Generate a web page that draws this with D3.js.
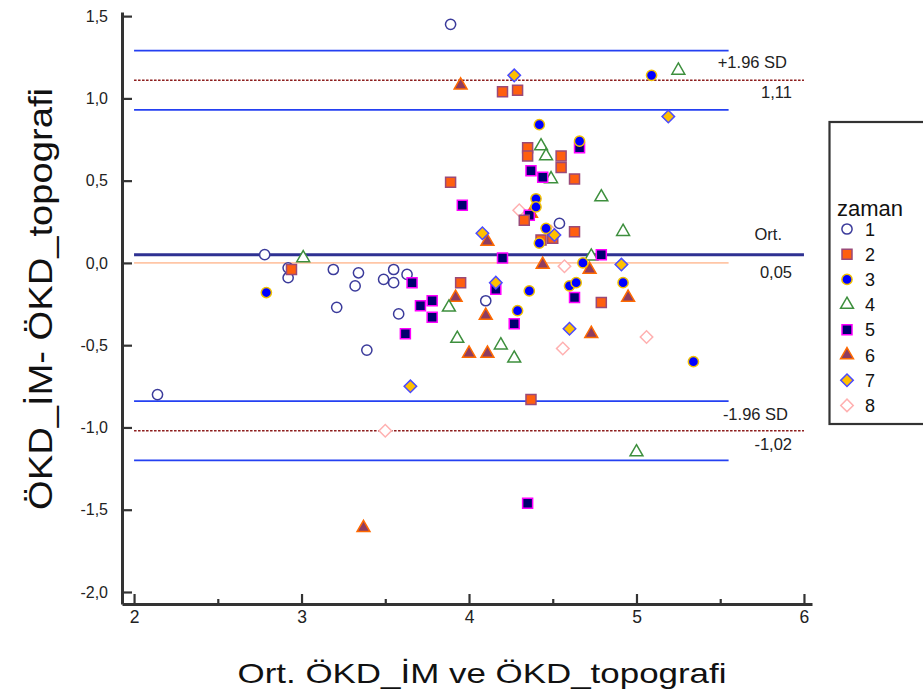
<!DOCTYPE html>
<html>
<head>
<meta charset="utf-8">
<script src="https://cdn.jsdelivr.net/npm/d3@7"></script>
<style>
  html, body { margin: 0; padding: 0; background: #fff; }
  svg { display: block; font-family: "Liberation Sans", Arial, sans-serif; }
  .y-axis .tick text { font-size: 16px; fill: #222; }
  .x-axis .tick text { font-size: 17.5px; fill: #222; }
</style>
</head>
<body>
<svg id="chart" width="923" height="699"></svg>
<script>
// Bland-Altman: mean of the two measurements vs. their difference, grouped by "zaman"
const zaman1 = [[3.89,1.45],[2.78,0.05],[2.92,-0.03],[2.92,-0.09],[3.19,-0.04],[3.34,-0.06],[3.32,-0.14],
  [3.49,-0.10],[3.55,-0.04],[3.55,-0.12],[3.63,-0.07],[3.21,-0.27],[3.58,-0.31],[3.39,-0.53],[2.14,-0.80],
  [4.10,-0.23],[4.54,0.24]];
const zaman2 = [[2.94,-0.04],[3.95,-0.12],[4.20,1.04],[4.29,1.05],[4.35,0.70],[4.35,0.65],[3.89,0.49],
  [4.55,0.65],[4.55,0.58],[4.63,0.51],[4.63,0.19],[4.33,0.26],[4.43,0.14],[4.50,0.15],[4.79,-0.24],[4.37,-0.83]];
const zaman3 = [[2.79,-0.18],[5.09,1.14],[4.42,0.84],[4.66,0.74],[4.40,0.39],[4.40,0.34],[4.46,0.21],
  [4.42,0.12],[4.68,0.00],[4.60,-0.14],[4.64,-0.12],[4.92,-0.12],[4.36,-0.17],[4.29,-0.29],[5.34,-0.60]];
const zaman4 = [[3.01,0.03],[5.25,1.17],[4.43,0.71],[4.46,0.65],[4.49,0.51],[4.79,0.40],[4.92,0.19],
  [4.73,0.04],[3.88,-0.27],[3.93,-0.46],[4.19,-0.50],[4.27,-0.58],[5.00,-1.15]];
const zaman5 = [[3.96,0.35],[3.66,-0.12],[3.71,-0.26],[3.78,-0.23],[3.78,-0.33],[3.62,-0.43],[4.20,0.03],
  [4.37,0.56],[4.44,0.52],[4.36,0.29],[4.66,0.70],[4.79,0.05],[4.16,-0.16],[4.27,-0.37],[4.63,-0.21],[4.35,-1.46]];
const zaman6 = [[3.95,1.08],[4.11,0.13],[4.44,-0.01],[4.72,-0.04],[3.92,-0.21],[4.00,-0.55],[4.10,-0.32],
  [4.11,-0.55],[4.73,-0.43],[4.95,-0.21],[3.37,-1.61],[4.37,0.30]];
const zaman7 = [[4.27,1.14],[5.19,0.89],[4.08,0.18],[4.51,0.17],[4.91,-0.01],[4.16,-0.12],[3.65,-0.75],[4.60,-0.40]];
const zaman8 = [[3.50,-1.02],[4.30,0.32],[4.57,-0.02],[4.56,-0.52],[5.06,-0.45],[4.49,0.19]];

const groupNames = ["1", "2", "3", "4", "5", "6", "7", "8"];
const groupData = [zaman1, zaman2, zaman3, zaman4, zaman5, zaman6, zaman7, zaman8];

// Agreement statistics
const meanDiff = 0.05;
const upperLoA = 1.11;
const lowerLoA = -1.02;
const upperLoACI = [0.93, 1.29];
const lowerLoACI = [-1.20, -0.84];

const xTicks = [2, 3, 4, 5, 6];
const xMinorTicks = [2.5, 3.5, 4.5, 5.5];
const yTicks = [-2.0, -1.5, -1.0, -0.5, 0.0, 0.5, 1.0, 1.5];

// Marker styling per group
const markerStyle = [
  { shape: "circle",   fill: "#ffffff", stroke: "#3b3b9b" },
  { shape: "square",   fill: "#ff5f0f", stroke: "#9a4a78" },
  { shape: "circle",   fill: "#0000ff", stroke: "#f2c200" },
  { shape: "triangle", fill: "#ffffff", stroke: "#3d8f3d" },
  { shape: "square",   fill: "#00006e", stroke: "#ff00ff" },
  { shape: "triangle", fill: "#8e3c60", stroke: "#ff6a00" },
  { shape: "diamond",  fill: "#ffc000", stroke: "#4b4bff" },
  { shape: "diamond",  fill: "#ffffff", stroke: "#ffb0b0" }
];
const layerOrder = [7, 0, 5, 3, 4, 1, 2, 6];

const svg = d3.select("#chart");
const locale = d3.formatLocale({ decimal: ",", thousands: ".", grouping: [3], currency: ["", ""], minus: "-" });
const fmt1 = locale.format(".1f");
const fmt2 = locale.format(".2f");

const x = d3.scaleLinear().domain([1.928, 6.048]).range([122, 812]);
const y = d3.scaleLinear().domain([-2.073, 1.525]).range([604, 12]);

function symbolPath(shape) {
  if (shape === "circle") return d3.symbol(d3.symbolCircle, 82)();
  if (shape === "square") return d3.symbol(d3.symbolSquare, 100)();
  if (shape === "triangle") return d3.symbol(d3.symbolTriangle, 72)();
  return d3.symbol(d3.symbolSquare, 78)();
}
function symbolTransform(shape, cx, cy) {
  return shape === "diamond" ? `translate(${cx},${cy}) rotate(45)` : `translate(${cx},${cy})`;
}

// Reference lines
const lines = svg.append("g");
const x0 = 2, xCIEnd = 5.55, xEnd = 6;
function hline(v, xa, xb, color, width, dash) {
  lines.append("line")
    .attr("x1", x(xa)).attr("x2", x(xb))
    .attr("y1", y(v)).attr("y2", y(v))
    .attr("stroke", color).attr("stroke-width", width)
    .attr("stroke-dasharray", dash || null);
}
hline(0, x0, xCIEnd, "#ffc6a6", 1.6);
upperLoACI.forEach(v => hline(v, x0, xCIEnd, "#2440f2", 1.6));
lowerLoACI.forEach(v => hline(v, x0, xCIEnd, "#2440f2", 1.6));
hline(upperLoA, x0, xEnd, "#8b1a1a", 1.5, "2.5,1.5");
hline(lowerLoA, x0, xEnd, "#8b1a1a", 1.5, "2.5,1.5");
hline(meanDiff, x0, xEnd, "#2e3192", 3);

// Line labels
const lab = svg.append("g").attr("font-size", 16.5).attr("fill", "#222").attr("text-anchor", "end");
lab.append("text").attr("x", 787).attr("y", y(upperLoA) - 12).text("+1.96 SD");
lab.append("text").attr("x", 792).attr("y", y(upperLoA) + 18).text(fmt2(upperLoA));
lab.append("text").attr("x", 782).attr("y", y(meanDiff) - 15).text("Ort.");
lab.append("text").attr("x", 792).attr("y", y(meanDiff) + 23).text(fmt2(meanDiff));
lab.append("text").attr("x", 788).attr("y", y(lowerLoA) - 11).text("-1.96 SD");
lab.append("text").attr("x", 792).attr("y", y(lowerLoA) + 19).text(fmt2(lowerLoA));

// Points
const pts = svg.append("g");
layerOrder.forEach(i => {
  const st = markerStyle[i];
  pts.append("g").selectAll("path")
    .data(groupData[i])
    .join("path")
    .attr("d", symbolPath(st.shape))
    .attr("transform", d => symbolTransform(st.shape, x(d[0]), y(d[1])))
    .attr("fill", st.fill)
    .attr("stroke", st.stroke)
    .attr("stroke-width", 1.5);
});

// Axes
const yAxis = svg.append("g").attr("class", "y-axis").attr("transform", "translate(122,0)")
  .call(d3.axisLeft(y).tickValues(yTicks).tickFormat(fmt1).tickSizeInner(-10).tickSizeOuter(0).tickPadding(14));
const xAxis = svg.append("g").attr("class", "x-axis").attr("transform", "translate(0,604)")
  .call(d3.axisBottom(x).tickValues(xTicks).tickFormat(d3.format("d")).tickSizeInner(-10).tickSizeOuter(0).tickPadding(7));
const xMinor = svg.append("g").attr("transform", "translate(0,604)")
  .call(d3.axisBottom(x).tickValues(xMinorTicks).tickFormat("").tickSizeInner(-5).tickSizeOuter(0));
xMinor.select(".domain").remove();
[yAxis, xAxis, xMinor].forEach(g => {
  g.attr("font-family", "'Liberation Sans', Arial, sans-serif");
  g.select(".domain").attr("stroke", "#333").attr("stroke-width", 3);
  g.selectAll(".tick line").attr("stroke", "#333").attr("stroke-width", 2.2);
});

// Axis titles
svg.append("text")
  .attr("x", 482).attr("y", 683)
  .attr("text-anchor", "middle").attr("font-size", 28).attr("fill", "#111")
  .attr("textLength", 489).attr("lengthAdjust", "spacingAndGlyphs")
  .text("Ort. ÖKD_İM ve ÖKD_topografi");
svg.append("text")
  .attr("transform", "translate(52,299) rotate(-90)")
  .attr("text-anchor", "middle").attr("font-size", 33).attr("fill", "#111")
  .attr("textLength", 422).attr("lengthAdjust", "spacingAndGlyphs")
  .text("ÖKD_İM- ÖKD_topografi");

// Legend
const leg = svg.append("g");
leg.append("rect").attr("x", 829.5).attr("y", 122).attr("width", 200).attr("height", 302)
  .attr("fill", "none").attr("stroke", "#333").attr("stroke-width", 2.2);
leg.append("text").attr("x", 837).attr("y", 216).attr("font-size", 22).attr("fill", "#111").text("zaman");
groupNames.forEach((name, i) => {
  const st = markerStyle[i];
  const cy = 229 + i * 25.2;
  leg.append("path")
    .attr("d", symbolPath(st.shape))
    .attr("transform", symbolTransform(st.shape, 847, cy))
    .attr("fill", st.fill).attr("stroke", st.stroke).attr("stroke-width", 1.5);
  leg.append("text").attr("x", 865).attr("y", cy + 6.5).attr("font-size", 18).attr("fill", "#111").text(name);
});
</script>
</body>
</html>
